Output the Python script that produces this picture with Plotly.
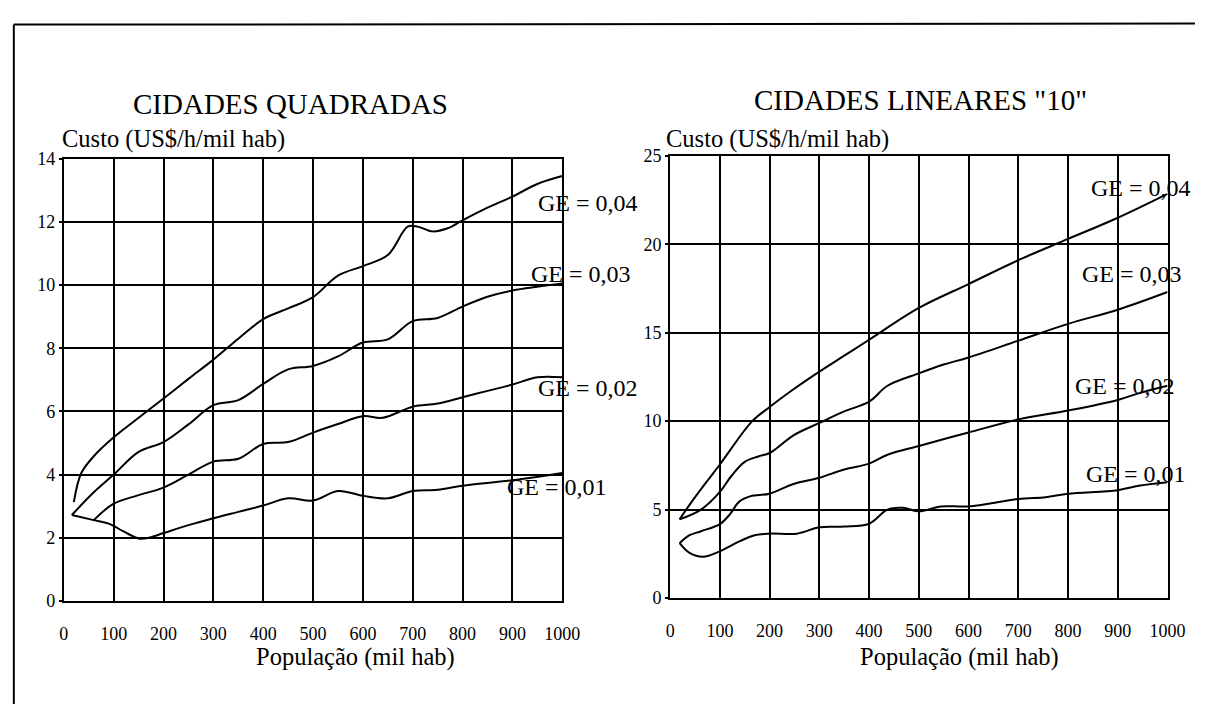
import plotly.graph_objects as go

W, H = 1213, 714
FONT = "Liberation Serif, Times New Roman, Times, serif"

# ---- CIDADES QUADRADAS (custo x população) ----
q_x_004 = [20, 35, 60, 100, 150, 200, 250, 300, 350, 400, 450, 500, 550, 600, 650, 690, 710, 740, 770, 800, 850, 900, 950, 1000]
q_y_004 = [3.13, 4.05, 4.58, 5.18, 5.8, 6.41, 7.03, 7.64, 8.3, 8.92, 9.26, 9.62, 10.3, 10.6, 10.95, 11.85, 11.85, 11.7, 11.8, 12.05, 12.45, 12.8, 13.2, 13.45]

q_x_003 = [16, 60, 100, 150, 200, 250, 300, 350, 400, 450, 500, 550, 600, 650, 700, 750, 800, 850, 900, 950, 1000]
q_y_003 = [2.72, 3.44, 4.0, 4.72, 5.03, 5.59, 6.2, 6.36, 6.87, 7.33, 7.44, 7.74, 8.18, 8.28, 8.86, 8.96, 9.32, 9.63, 9.83, 9.95, 10.05]

q_x_002 = [60, 100, 150, 200, 250, 300, 350, 400, 450, 500, 550, 600, 640, 700, 750, 800, 850, 900, 950, 1000]
q_y_002 = [2.56, 3.08, 3.35, 3.59, 4.0, 4.41, 4.5, 4.97, 5.03, 5.33, 5.6, 5.85, 5.8, 6.15, 6.25, 6.45, 6.65, 6.85, 7.08, 7.08]

q_x_001 = [16, 60, 90, 120, 150, 170, 200, 250, 300, 350, 400, 450, 500, 550, 600, 650, 700, 750, 800, 900, 1000]
q_y_001 = [2.72, 2.56, 2.45, 2.2, 1.98, 2.0, 2.15, 2.4, 2.62, 2.82, 3.02, 3.25, 3.18, 3.48, 3.33, 3.25, 3.48, 3.52, 3.65, 3.82, 4.05]

# ---- CIDADES LINEARES "10" ----
l_x_004 = [19, 39, 70, 100, 165, 200, 248, 300, 350, 400, 500, 600, 700, 800, 900, 1000]
l_y_004 = [4.45, 5.27, 6.45, 7.55, 10.0, 10.8, 11.8, 12.8, 13.7, 14.6, 16.4, 17.75, 19.1, 20.3, 21.5, 22.85]

l_x_003 = [19, 62, 100, 123, 150, 177, 200, 248, 300, 350, 400, 437, 500, 550, 600, 700, 800, 900, 1000]
l_y_003 = [4.45, 5.0, 6.0, 6.9, 7.7, 8.0, 8.2, 9.2, 9.9, 10.55, 11.1, 12.0, 12.7, 13.2, 13.6, 14.55, 15.5, 16.3, 17.3]

l_x_002 = [19, 39, 62, 100, 120, 139, 162, 200, 248, 300, 350, 400, 437, 500, 600, 700, 800, 900, 945, 1000]
l_y_002 = [3.1, 3.55, 3.78, 4.18, 4.73, 5.45, 5.76, 5.9, 6.45, 6.8, 7.27, 7.6, 8.1, 8.6, 9.36, 10.1, 10.6, 11.2, 11.6, 12.0]

l_x_001 = [19, 39, 66, 100, 139, 170, 200, 255, 300, 350, 400, 437, 468, 500, 545, 600, 700, 755, 800, 900, 945, 1000]
l_y_001 = [3.1, 2.55, 2.33, 2.64, 3.2, 3.55, 3.64, 3.64, 4.0, 4.04, 4.2, 5.0, 5.1, 4.9, 5.18, 5.18, 5.6, 5.7, 5.9, 6.1, 6.36, 6.55]

x_ticks = list(range(0, 1001, 100))
q_y_ticks = list(range(0, 15, 2))
l_y_ticks = list(range(0, 26, 5))

ge_names = ["GE = 0,04", "GE = 0,03", "GE = 0,02", "GE = 0,01"]
# label anchor (left edge, vertical centre) in data units
q_label_pos = [(947, 12.6), (933, 10.35), (947, 6.75), (886, 3.6)]
l_label_pos = [(842, 23.2), (824, 18.3), (809, 12.0), (832, 7.0)]

fig = go.Figure()

quad = [(q_x_004, q_y_004), (q_x_003, q_y_003), (q_x_002, q_y_002), (q_x_001, q_y_001)]
lin = [(l_x_004, l_y_004), (l_x_003, l_y_003), (l_x_002, l_y_002), (l_x_001, l_y_001)]

for name, (xs, ys) in zip(ge_names, quad):
    fig.add_trace(go.Scatter(x=xs, y=ys, mode="lines", name=name, xaxis="x", yaxis="y",
                             line=dict(color="black", width=2, shape="spline", smoothing=1.0),
                             showlegend=False, hoverinfo="skip"))
for name, (xs, ys) in zip(ge_names, lin):
    fig.add_trace(go.Scatter(x=xs, y=ys, mode="lines", name=name, xaxis="x2", yaxis="y2",
                             line=dict(color="black", width=2, shape="spline", smoothing=1.0),
                             showlegend=False, hoverinfo="skip"))


def px_x(p):
    return p / W


def px_y(p):
    return 1 - p / H


tick_font = dict(family=FONT, size=18, color="black")

common_x = dict(range=[0, 1000], tickvals=x_ticks, ticktext=[str(v) for v in x_ticks],
                showgrid=True, gridcolor="black", gridwidth=1.6,
                showline=True, linecolor="black", linewidth=2.2, mirror=True,
                zeroline=False, ticks="", ticklabelstandoff=15, tickfont=tick_font)
common_y = dict(showgrid=True, gridcolor="black", gridwidth=1.6,
                showline=True, linecolor="black", linewidth=2.2, mirror=True,
                zeroline=False, ticks="outside", ticklen=3, tickwidth=1.5, tickcolor="black",
                ticklabelstandoff=0, tickfont=tick_font)

fig.update_layout(
    width=W, height=H,
    margin=dict(l=0, r=0, t=0, b=0),
    paper_bgcolor="white", plot_bgcolor="white",
    font=dict(family=FONT, color="black"),
    xaxis=dict(domain=[px_x(60), px_x(568)], anchor="y", **common_x),
    yaxis=dict(domain=[px_y(608), px_y(153)], anchor="x", range=[0, 14],
               tickvals=q_y_ticks, **common_y),
    xaxis2=dict(domain=[px_x(678), px_x(1185)], anchor="y2", **common_x),
    yaxis2=dict(domain=[px_y(605), px_y(150)], anchor="x2", range=[0, 25],
                tickvals=l_y_ticks, **common_y),
)

annotations = []


def text(x, y, s, size, xanchor="center", xref="paper", yref="paper"):
    annotations.append(dict(x=x, y=y, xref=xref, yref=yref, text=s, showarrow=False,
                            xanchor=xanchor, yanchor="middle",
                            font=dict(family=FONT, size=size, color="black")))


# titles
text(px_x(291), px_y(97), "CIDADES QUADRADAS", 29)
text(px_x(933), px_y(93), "CIDADES LINEARES \"10\"", 29)
# y-axis titles
text(px_x(56), px_y(133), "Custo (US$/h/mil hab)", 24.5, xanchor="left")
text(px_x(672), px_y(133), "Custo (US$/h/mil hab)", 24.5, xanchor="left")
# x-axis titles
text(px_x(357), px_y(666), "População (mil hab)", 24.5)
text(px_x(973), px_y(666), "População (mil hab)", 24.5)
# curve labels
for name, (lx, ly) in zip(ge_names, q_label_pos):
    text(lx, ly, name, 24, xanchor="left", xref="x", yref="y")
for name, (lx, ly) in zip(ge_names, l_label_pos):
    text(lx, ly, name, 24, xanchor="left", xref="x2", yref="y2")

fig.update_layout(annotations=annotations)

# page frame (top and left edges)
fig.add_shape(type="line", xref="paper", yref="paper",
              x0=px_x(9), y0=px_y(15), x1=1, y1=px_y(14),
              line=dict(color="black", width=2))
fig.add_shape(type="line", xref="paper", yref="paper",
              x0=px_x(9), y0=px_y(15), x1=px_x(9), y1=0,
              line=dict(color="black", width=2))

fig.write_html(
    "out.html",
    post_script="document.body.style.margin='0';document.body.style.overflow='hidden';",
)
